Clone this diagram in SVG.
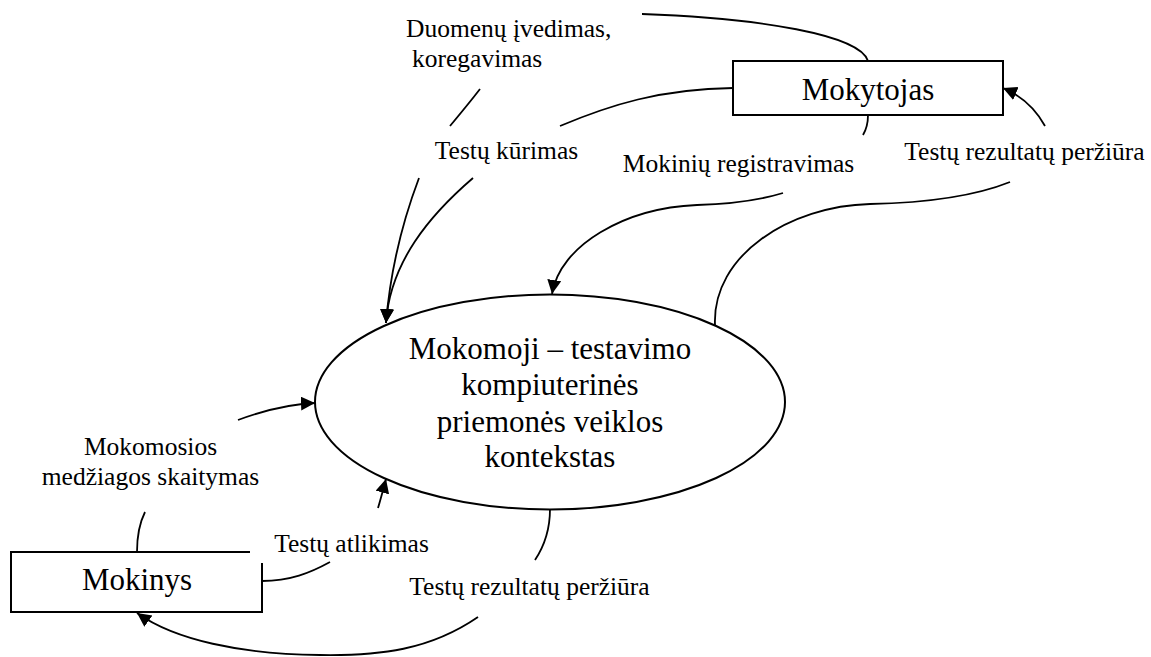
<svg xmlns="http://www.w3.org/2000/svg" width="1151" height="657" viewBox="0 0 1151 657">
  <style>
    .edge { fill: none; stroke: #000; stroke-width: 1.8; }
    .shape { fill: #fff; stroke: #000; stroke-width: 2; }
    .big { font-family: "Liberation Serif", "Times New Roman", serif; font-size: 31px; fill: #000; text-anchor: middle; }
    .lbl { font-family: "Liberation Serif", "Times New Roman", serif; font-size: 25.5px; fill: #000; }
    .mid { text-anchor: middle; }
  </style>
  <defs>
    <marker id="arrow" markerUnits="userSpaceOnUse" markerWidth="15" markerHeight="15" refX="14" refY="7" orient="auto">
      <path d="M0,0 L14,7 L0,14 z" fill="#000"/>
    </marker>
  </defs>
  <rect width="1151" height="657" fill="#fff"/>

  <!-- flows -->
  <g id="connectors">
    <!-- Duomenų įvedimas, koregavimas -->
    <path class="edge" d="M642,14 C760,18 860,35 868,61"/>
    <path class="edge" d="M480,89 C470,102 460,114 450,126"/>
    <path class="edge" marker-end="url(#arrow)" d="M419,178 C405,215 391,262 386,323"/>
    <!-- Testų kūrimas -->
    <path class="edge" d="M733,88 C660,89 610,105 560,126"/>
    <path class="edge" marker-end="url(#arrow)" d="M473,178 C430,215 390,262 386,323"/>
    <!-- Mokinių registravimas -->
    <path class="edge" d="M868,115 C868,123 866,130 863,135"/>
    <path class="edge" marker-end="url(#arrow)" d="M783,193 C760,200 730,204 697,205 C625,208 560,245 552,294"/>
    <!-- Testų rezultatų peržiūra (mokytojui) -->
    <path class="edge" d="M1010,182 C970,198 920,203 870,204 C790,206 712,255 715,325"/>
    <path class="edge" marker-end="url(#arrow)" d="M1045,126 C1035,108 1022,96 1003,88"/>
    <!-- Mokomosios medžiagos skaitymas -->
    <path class="edge" d="M137,552 C137,535 140,522 145,512"/>
    <path class="edge" marker-end="url(#arrow)" d="M238,420 C265,410 290,404 315,403"/>
    <!-- Testų atlikimas -->
    <path class="edge" d="M262,581 C290,581 310,573 330,562"/>
    <path class="edge" marker-end="url(#arrow)" d="M378,508 C381,498 383,490 386,479"/>
    <!-- Testų rezultatų peržiūra (mokiniui) -->
    <path class="edge" d="M550,509 C550,530 545,545 535,560"/>
    <path class="edge" marker-end="url(#arrow)" d="M478,617 C430,650 380,656 320,655 C240,654 175,640 137,613"/>
  </g>

  <g id="labels">
    <text class="lbl" x="406" y="37">Duomenų įvedimas,</text>
    <text class="lbl" x="412" y="67">koregavimas</text>
    <text class="lbl mid" x="506.5" y="159">Testų kūrimas</text>
    <text class="lbl mid" x="738.5" y="172">Mokinių registravimas</text>
    <text class="lbl mid" x="1024.5" y="160">Testų rezultatų peržiūra</text>
    <text class="lbl mid" x="150.5" y="455">Mokomosios</text>
    <text class="lbl mid" x="150.5" y="485">medžiagos skaitymas</text>
    <text class="lbl mid" x="351.5" y="552">Testų atlikimas</text>
    <text class="lbl mid" x="529.5" y="595">Testų rezultatų peržiūra</text>
  </g>

  <g id="system">
    <ellipse class="shape" cx="550" cy="402" rx="235" ry="107.5"/>
    <text class="big" x="550" y="359">Mokomoji – testavimo</text>
    <text class="big" x="550" y="395">kompiuterinės</text>
    <text class="big" x="550" y="432">priemonės veiklos</text>
    <text class="big" x="550" y="467">kontekstas</text>
  </g>

  <g id="mokytojas">
    <rect class="shape" x="733" y="61" width="270" height="54"/>
    <text class="big" x="868" y="100">Mokytojas</text>
  </g>

  <g id="mokinys">
    <path class="shape" fill="none" d="M250,552 H11 V612 H262 V563"/>
    <text class="big" x="137" y="590">Mokinys</text>
  </g>
</svg>
